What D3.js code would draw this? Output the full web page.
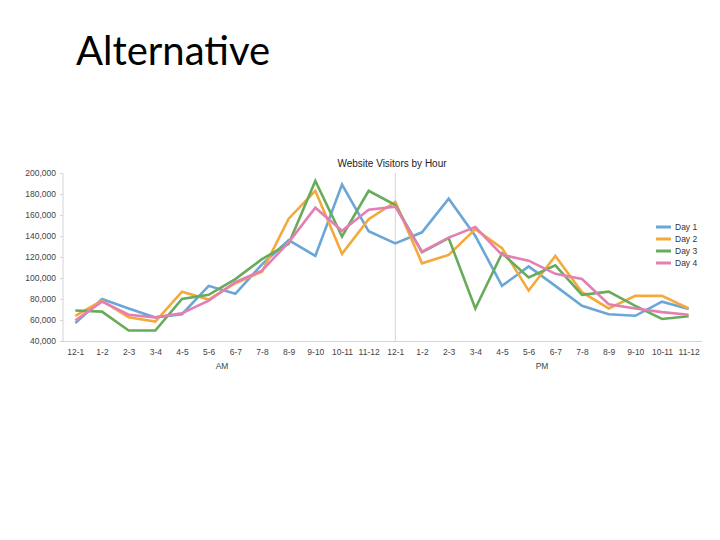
<!DOCTYPE html>
<html>
<head>
<meta charset="utf-8">
<script src="https://cdn.jsdelivr.net/npm/d3@7"></script>
<style>
  html, body { margin: 0; padding: 0; background: #fff; }
  svg { display: block; }
</style>
</head>
<body>
<svg id="chart" width="720" height="540"></svg>
<script>
const hours = ["12-1","1-2","2-3","3-4","4-5","5-6","6-7","7-8","8-9","9-10","10-11","11-12",
               "12-1","1-2","2-3","3-4","4-5","5-6","6-7","7-8","8-9","9-10","10-11","11-12"];
const periods = ["AM", "PM"];
const seriesNames = ["Day 1", "Day 2", "Day 3", "Day 4"];
const day1 = [57000, 80000, 71000, 62500, 65500, 92500, 85000, 113000, 136000, 121000, 189000, 144500,
              133000, 143500, 175500, 140000, 92500, 111000, 92500, 73500, 65500, 64000, 77500, 70500];
const day2 = [64000, 78500, 62500, 58500, 87000, 79500, 95000, 106000, 156500, 183000, 123000, 156000,
              172500, 114000, 122000, 146500, 128500, 88000, 121000, 86500, 71000, 83000, 83000, 71000];
const day3 = [69000, 68000, 50000, 50000, 80000, 84000, 99000, 118000, 132500, 192500, 139500, 183000,
              169500, 124500, 138000, 71000, 123500, 100500, 112000, 84000, 87000, 73500, 61000, 63500];
const day4 = [59500, 77500, 65000, 62500, 66500, 78500, 96000, 107000, 134000, 167000, 145000, 165000,
              168000, 125000, 138500, 148500, 122000, 116500, 104000, 99000, 75000, 71000, 67500, 65000];
const yTicks = [40000, 60000, 80000, 100000, 120000, 140000, 160000, 180000, 200000];
const colors = ["#6aa6d6", "#f3a93c", "#68ab5b", "#e47fb4"];

const series = [day1, day2, day3, day4];
const svg = d3.select("#chart");

// Slide title
svg.append("text")
  .attr("x", 76).attr("y", 65)
  .attr("font-family", "Lato, 'Open Sans', sans-serif")
  .attr("font-size", 40)
  .attr("fill", "#000")
  .text("Alternative");

const pLeft = 62, pRight = 702, pTop = 173, pBottom = 341;
const x = d3.scalePoint().domain(d3.range(hours.length)).range([pLeft, pRight]).padding(0.5);
const y = d3.scaleLinear().domain([40000, 200000]).range([pBottom, pTop]);

const font = "'Liberation Sans', Arial, sans-serif";

// Chart title
svg.append("text")
  .attr("x", 392).attr("y", 167)
  .attr("text-anchor", "middle")
  .attr("font-family", font).attr("font-size", 10)
  .attr("fill", "#222")
  .text("Website Visitors by Hour");

// Y axis
const yAxis = svg.append("g")
  .attr("transform", `translate(${pLeft + 1},0)`)
  .call(d3.axisLeft(y).tickValues(yTicks).tickSize(3).tickPadding(4)
        .tickFormat(d3.format(",")));
yAxis.selectAll("path, line").attr("stroke", "#d4d4d4");
yAxis.select(".domain").attr("d", `M-3,${pTop + 0.5}H0V${pBottom + 0.5}`);
yAxis.selectAll("text")
  .attr("font-family", font).attr("font-size", 8.5).attr("fill", "#444");

// X axis
const xAxis = svg.append("g")
  .attr("transform", `translate(0,${pBottom})`)
  .call(d3.axisBottom(x).tickSize(0).tickPadding(8).tickFormat(i => hours[i]));
xAxis.select(".domain").attr("stroke", "#d4d4d4").attr("d", `M${pLeft},0.5H${pRight}`);
xAxis.selectAll("text")
  .attr("font-family", font).attr("font-size", 8.5).attr("fill", "#444");

// AM / PM labels
periods.forEach((p, k) => {
  const mid = (x(k * 12) + x(k * 12 + 11)) / 2;
  svg.append("text")
    .attr("x", mid).attr("y", 369)
    .attr("text-anchor", "middle")
    .attr("font-family", font).attr("font-size", 8.5).attr("fill", "#444")
    .text(p);
});

// Divider at noon
svg.append("line")
  .attr("x1", x(12)).attr("x2", x(12))
  .attr("y1", pTop).attr("y2", pBottom)
  .attr("stroke", "#d4d4d4").attr("stroke-width", 1);

// Lines
const line = d3.line().x((d, i) => x(i)).y(d => y(d));
series.forEach((s, k) => {
  svg.append("path")
    .datum(s)
    .attr("d", line)
    .attr("fill", "none")
    .attr("stroke", colors[k])
    .attr("stroke-width", 2.6)
    .attr("stroke-linejoin", "miter");
});

// Legend
const legend = svg.append("g").attr("transform", "translate(656,227)");
seriesNames.forEach((n, k) => {
  const g = legend.append("g").attr("transform", `translate(0,${k * 12})`);
  g.append("line").attr("x1", 0).attr("x2", 15).attr("y1", 0).attr("y2", 0)
    .attr("stroke", colors[k]).attr("stroke-width", 3);
  g.append("text").attr("x", 19).attr("y", 3)
    .attr("font-family", font).attr("font-size", 8.5).attr("fill", "#333")
    .text(n);
});
</script>
</body>
</html>
